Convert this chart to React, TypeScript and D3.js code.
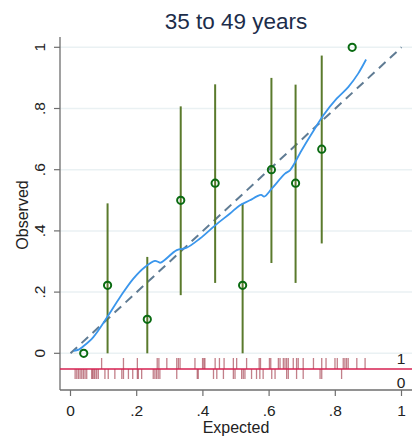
import React from "react";
import * as d3 from "d3";

const title = "35 to 49 years";
const xTicks = [0, 0.2, 0.4, 0.6, 0.8, 1];
const yTicks = [0, 0.2, 0.4, 0.6, 0.8, 1];
const tickLabels = ["0", ".2", ".4", ".6", ".8", "1"];

// grouped observed vs expected with CI
const groupExpected = [0.04, 0.112, 0.232, 0.333, 0.437, 0.52, 0.607, 0.68, 0.759, 0.851];
const groupObserved = [0, 0.222, 0.111, 0.5, 0.556, 0.222, 0.6, 0.556, 0.667, 1];
const ciLow = [null, 0, 0, 0.19, 0.23, 0, 0.295, 0.23, 0.359, null];
const ciHigh = [null, 0.49, 0.315, 0.807, 0.879, 0.49, 0.9, 0.878, 0.973, null];

// lowess smoother
const lowessX = [0.01, 0.025, 0.039, 0.069, 0.112, 0.15, 0.19, 0.225, 0.255, 0.265, 0.272, 0.321, 0.351, 0.391, 0.437, 0.482, 0.512, 0.542, 0.563, 0.576, 0.585, 0.608, 0.648, 0.663, 0.698, 0.729, 0.764, 0.804, 0.839, 0.869, 0.893];
const lowessY = [0.008, 0.012, 0.023, 0.053, 0.12, 0.184, 0.244, 0.282, 0.302, 0.299, 0.296, 0.337, 0.345, 0.375, 0.418, 0.457, 0.484, 0.5, 0.513, 0.518, 0.512, 0.538, 0.587, 0.598, 0.663, 0.718, 0.778, 0.832, 0.87, 0.914, 0.96];

// rug of predicted probabilities by outcome
const rugOne = [0.094, 0.16, 0.202, 0.262, 0.267, 0.291, 0.321, 0.326, 0.331, 0.376, 0.399, 0.403, 0.406, 0.437, 0.45, 0.464, 0.492, 0.502, 0.532, 0.57, 0.574, 0.601, 0.605, 0.628, 0.633, 0.643, 0.648, 0.653, 0.658, 0.673, 0.683, 0.688, 0.703, 0.734, 0.759, 0.772, 0.799, 0.806, 0.824, 0.829, 0.834, 0.839, 0.865, 0.89];
const rugZero = [0.014, 0.019, 0.024, 0.029, 0.034, 0.039, 0.044, 0.049, 0.064, 0.067, 0.071, 0.074, 0.079, 0.084, 0.104, 0.114, 0.134, 0.155, 0.16, 0.175, 0.188, 0.202, 0.205, 0.215, 0.25, 0.255, 0.26, 0.265, 0.27, 0.321, 0.383, 0.386, 0.432, 0.442, 0.462, 0.492, 0.497, 0.517, 0.522, 0.527, 0.547, 0.562, 0.572, 0.582, 0.608, 0.618, 0.653, 0.658, 0.683, 0.703, 0.754, 0.759, 0.819];

const W = 412;
const H = 443;
const font = "Liberation Sans, Arial, sans-serif";

export default function App() {
  const x = d3.scaleLinear().domain([0, 1]).range([70.5, 401.5]);
  const y = d3.scaleLinear().domain([0, 1]).range([353.3, 47.3]);
  const plotLeft = 60;
  const plotRight = 412;
  const plotTop = 37;
  const plotBottom = 390;
  const redY = 369;

  const lowessData = lowessX.map((v, i) => [v, lowessY[i]] as [number, number]);
  const line = d3
    .line<[number, number]>()
    .x((d) => x(d[0]))
    .y((d) => y(d[1]))
    .curve(d3.curveCatmullRom.alpha(0.5));

  return (
    <svg
      width={W}
      height={H}
      style={{ position: "absolute", left: 0, top: 0, background: "#fff" }}
      fontFamily={font}
    >
      <rect x={0} y={0} width={W} height={H} fill="#fff" />
      {/* title */}
      <text x={236} y={29} textAnchor="middle" fontSize={22.5} fill="#1c2d4a">
        {title}
      </text>

      {/* gridlines */}
      {yTicks.map((t) => (
        <line key={"g" + t} x1={plotLeft} x2={plotRight} y1={y(t)} y2={y(t)} stroke="#eaf1f3" strokeWidth={1.5} />
      ))}

      {/* axes */}
      <line x1={plotLeft} x2={plotLeft} y1={plotTop} y2={plotBottom} stroke="#6e6e6e" strokeWidth={1.3} />
      <line x1={plotLeft} x2={plotRight} y1={plotBottom} y2={plotBottom} stroke="#6e6e6e" strokeWidth={1.3} />

      {yTicks.map((t, i) => (
        <g key={"yt" + t}>
          <line x1={plotLeft - 6} x2={plotLeft} y1={y(t)} y2={y(t)} stroke="#6e6e6e" strokeWidth={1.2} />
          <text
            transform={`translate(45,${y(t)}) rotate(-90)`}
            textAnchor="middle"
            fontSize={15.5}
            fill="#222"
          >
            {tickLabels[i]}
          </text>
        </g>
      ))}
      {xTicks.map((t, i) => (
        <g key={"xt" + t}>
          <line x1={x(t)} x2={x(t)} y1={plotBottom} y2={plotBottom + 6} stroke="#6e6e6e" strokeWidth={1.2} />
          <text x={x(t)} y={415.5} textAnchor="middle" fontSize={15.5} fill="#222">
            {tickLabels[i]}
          </text>
        </g>
      ))}

      <text transform={`translate(28,${215}) rotate(-90)`} textAnchor="middle" fontSize={16} fill="#222">
        Observed
      </text>
      <text x={236} y={433} textAnchor="middle" fontSize={16} fill="#222">
        Expected
      </text>

      {/* rug */}
      {rugOne.map((v, i) => (
        <line key={"r1" + i} x1={x(v)} x2={x(v)} y1={358} y2={redY} stroke="#9a2a3a" strokeOpacity={0.6} strokeWidth={1.3} />
      ))}
      {rugZero.map((v, i) => (
        <line key={"r0" + i} x1={x(v)} x2={x(v)} y1={redY} y2={379} stroke="#9a2a3a" strokeOpacity={0.6} strokeWidth={1.3} />
      ))}
      <line x1={plotLeft} x2={plotRight} y1={redY} y2={redY} stroke="#d62050" strokeWidth={1.5} />
      <text x={401} y={364} textAnchor="middle" fontSize={15.5} fill="#222">1</text>
      <text x={401} y={388} textAnchor="middle" fontSize={15.5} fill="#222">0</text>

      {/* diagonal reference */}
      <line x1={x(0)} y1={y(0)} x2={x(1)} y2={y(1)} stroke="#5f7b93" strokeWidth={2} strokeDasharray="9,6" />

      {/* CIs */}
      {groupExpected.map((v, i) =>
        ciLow[i] == null ? null : (
          <line key={"ci" + i} x1={x(v)} x2={x(v)} y1={y(ciLow[i] as number)} y2={y(ciHigh[i] as number)} stroke="#5a7a2c" strokeWidth={2} />
        )
      )}

      {/* lowess */}
      <path d={line(lowessData) || ""} fill="none" stroke="#3a96ec" strokeWidth={1.8} />

      {/* markers */}
      {groupExpected.map((v, i) => (
        <circle key={"m" + i} cx={x(v)} cy={y(groupObserved[i])} r={3.6} fill="none" stroke="#0a6b12" strokeWidth={2} />
      ))}
    </svg>
  );
}
